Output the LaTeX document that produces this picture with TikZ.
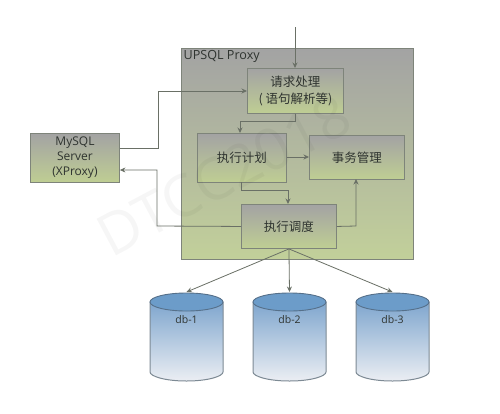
\documentclass[tikz,border=0pt]{standalone}
\usepackage{fontspec}
\setmainfont{Open Sans}
\newfontfamily\cjk{Noto Sans CJK SC}
\usetikzlibrary{arrows.meta,calc}
\definecolor{edgec}{HTML}{7E847A}
\definecolor{linec}{HTML}{6A7066}
\definecolor{txt}{HTML}{2F3430}
\definecolor{grayt}{HTML}{A3A3A3}
\definecolor{greenb}{HTML}{BFCE93}
\definecolor{outb}{HTML}{C2D09A}
\definecolor{dbt}{HTML}{7FA6CE}
\definecolor{dbb}{HTML}{EBEEF3}
\definecolor{dbtopc}{HTML}{6C9CC9}
\definecolor{dbedge}{HTML}{7D8A94}
\definecolor{dbtedge}{HTML}{56708A}
\tikzset{
  x=1pt,y=-1pt,
  proc/.style={draw=edgec,line width=.9pt,top color=grayt,bottom color=greenb,shading angle=0,inner sep=0pt,anchor=north west,text=txt,align=center,font=\cjk\fontsize{12.5}{17}\selectfont},
  conn/.style={draw=linec,line width=.8pt,-{Stealth[length=5.5pt,width=5pt]}},
  dbbody/.style={draw=dbedge,line width=1pt,top color=dbt,bottom color=dbb},
  dbtop/.style={draw=dbtedge,line width=.9pt,fill=dbtopc},
  dblabel/.style={text=txt,font=\fontsize{10.5}{12}\selectfont,inner sep=0pt},
}
\newcommand{\dbcyl}[3]{%
  \path[dbbody] (#1,302) -- (#1,372) .. controls (#1,376) and ({#1+14},381) .. ({#1+36.5},381) .. controls ({#1+59},381) and ({#1+73},376) .. ({#1+73},372) -- ({#1+73},302) -- cycle;
  \path[dbtop] ({#1+36.5},302) ellipse [x radius=36.5,y radius=9];
  \coordinate (#2) at ({#1+36.5},292);
  \node[dblabel] (#2l) at ({#1+36.5},320) {#3};
}
\begin{document}
\begin{tikzpicture}
\useasboundingbox (0,0) rectangle (500,413);
\fill[white] (0,0) rectangle (500,413);
\node[draw=edgec,line width=.9pt,minimum width=232pt,minimum height=211pt,anchor=north west,inner sep=0pt,top color=grayt,bottom color=outb] (outer) at (181,48) {};
\node[anchor=north west,inner sep=0pt,text=txt,font=\fontsize{12.6}{14}\selectfont] (title) at (183.5,50.5) {UPSQL Proxy};
\node[proc,minimum width=96pt,minimum height=45pt] (req) at (247,68) {请求处理\\( 语句解析等)};
\node[proc,minimum width=89pt,minimum height=49pt] (plan) at (197,133) {执行计划};
\node[proc,minimum width=95pt,minimum height=44pt] (tx) at (309,135) {事务管理};
\node[proc,minimum width=95pt,minimum height=44pt] (sched) at (241,204) {执行调度};
\node[proc,minimum width=89pt,minimum height=49pt,font=\fontsize{12}{15}\selectfont] (mysql) at (30,133) {MySQL\\Server\\(XProxy)};
\dbcyl{150}{dba}{db-1}
\dbcyl{253}{dbbn}{db-2}
\dbcyl{356}{dbc}{db-3}
\coordinate (in) at (295,27);
\node[rotate=28,text=black,opacity=.035,font=\fontsize{58}{58}\selectfont,inner sep=0pt] (wm) at (224,175) {DTCC2018};
\draw[conn] (in) -- (in |- req.north);
\draw[conn] (mysql.east |- 0,148) -- (158,148) -- (158,91) -- (req.west |- 0,91);
\draw[conn] (sched.west) -- (157,226) -- (157,170) -- (mysql.east |- 0,170);
\draw[conn] (in |- req.south) -- (295,121) -- (240,121) -- (240,133);
\draw[conn] (plan.east |- 0,157) -- (tx.west |- 0,157);
\draw[conn] (241,182) -- (241,190) -- (288,190) -- (288,204);
\draw[conn] (sched.east) -- (356,226) -- (356,179);
\draw[conn] (sched.south) -- (dba);
\draw[conn] (sched.south) -- (dbbn);
\draw[conn] (sched.south) -- (dbc);
\end{tikzpicture}
\end{document}
